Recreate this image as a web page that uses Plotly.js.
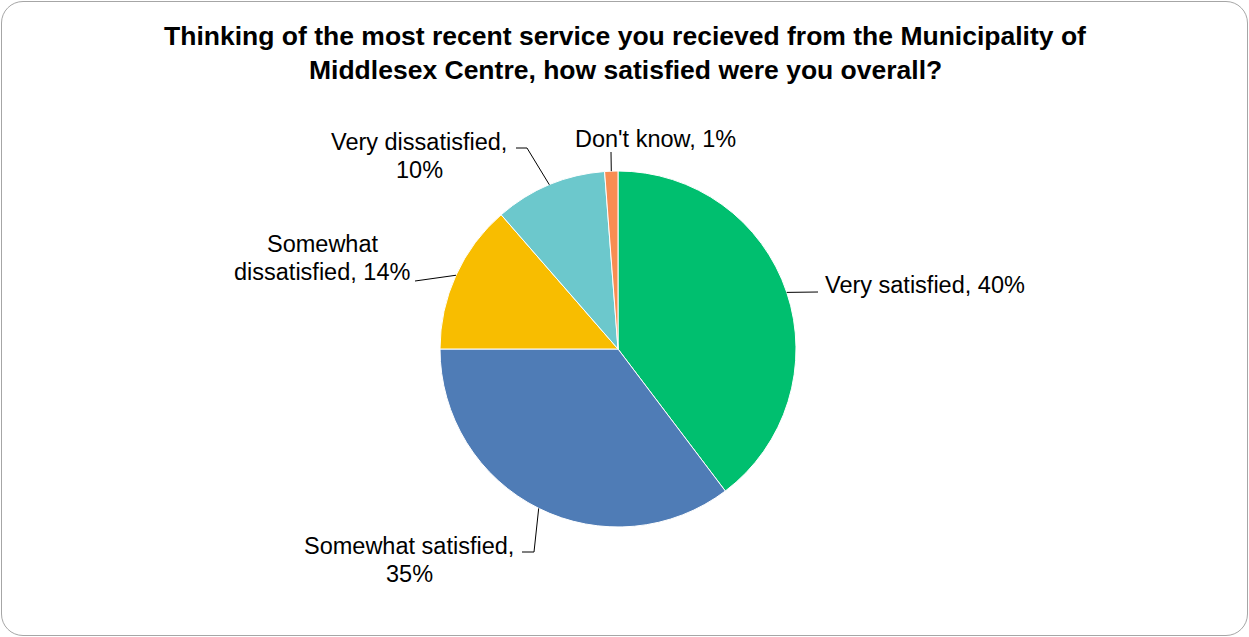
<!DOCTYPE html>
<html>
<head>
<meta charset="utf-8">
<script src="https://cdn.plot.ly/plotly-3.0.1.min.js"></script>
<style>
  html, body { margin: 0; padding: 0; background: #fff; }
  #wrap { position: relative; width: 1249px; height: 637px; }
  #chart { position: absolute; left: 0; top: 0; width: 1249px; height: 637px; }
  #frame { position: absolute; left: 1px; top: 1px; width: 1247px; height: 635px; box-sizing: border-box;
           border: 1.5px solid #a6a6a6; border-radius: 22px; pointer-events: none; }
</style>
</head>
<body>
<div id="wrap"><div id="chart"></div><div id="frame"></div></div>
<script>
// ---- data ----
const categories = ['Very satisfied', 'Somewhat satisfied', 'Somewhat dissatisfied', 'Very dissatisfied', "Don't know"];
const values = [39.7, 35.3, 13.6, 10.2, 1.2];
const shownPercent = ['40%', '35%', '14%', '10%', '1%'];
const colors = ['#00bf6f', '#4f7cb6', '#f8bd00', '#6cc8cc', '#f88d52'];
const titleLines = ['Thinking of the most recent service you recieved from the Municipality of',
                    'Middlesex Centre, how satisfied were you overall?'];

// ---- label layout (pixels) ----
const W = 1249, H = 637;
const cx = 618, cy = 349, R = 178;
const FONT = 'Liberation Sans, Arial, sans-serif';
const displayNames = ['Very satisfied', 'Somewhat satisfied', 'Somewhat<br>dissatisfied', 'Very dissatisfied', "Don't know"];
const separators = [', ', ',<br>', ', ', ',<br>', ', '];
const labelPos = [[823, 285, 'left'], [409, 560, 'center'], [322, 258, 'center'], [419, 156, 'center'], [655, 139, 'center']];
const lineGap = 28;
// leader line waypoints (from label side toward slice)
const leaderPts = [[[818, 292]], [[522, 552], [534, 552]], [[415, 281]], [[516, 148], [527, 148]], [[611, 152]]];

const px = x => x / W;
const py = y => 1 - y / H;

const total = values.reduce((a, b) => a + b, 0);
let cum = 0;
const shapes = [];
const annotations = [];
values.forEach((v, i) => {
  const mid = (cum + v / 2) / total * 2 * Math.PI;
  cum += v;
  const ex = cx + R * Math.sin(mid), ey = cy - R * Math.cos(mid);
  const pts = leaderPts[i].concat([[ex, ey]]);
  let d = 'M ' + px(pts[0][0]) + ',' + py(pts[0][1]);
  for (let k = 1; k < pts.length; k++) d += ' L ' + px(pts[k][0]) + ',' + py(pts[k][1]);
  shapes.push({type: 'path', xref: 'paper', yref: 'paper', path: d, line: {color: '#000', width: 1}});
  const lp = labelPos[i];
  const lines = (displayNames[i] + separators[i] + shownPercent[i]).split('<br>');
  lines.forEach((ln, j) => {
    const yy = lp[1] + (j - (lines.length - 1) / 2) * lineGap;
    annotations.push({
      xref: 'paper', yref: 'paper', x: px(lp[0]), y: py(yy),
      xanchor: lp[2], yanchor: 'middle', align: 'center', showarrow: false,
      text: ln,
      font: {family: FONT, size: 23.5, color: '#000'}
    });
  });
});

annotations.push({
  xref: 'paper', yref: 'paper', x: px(625), y: py(70), xanchor: 'center', yanchor: 'middle', showarrow: false,
  text: '<b>' + titleLines[1] + '</b>',
  font: {family: FONT, size: 26.5, color: '#000'}
});

const data = [{
  type: 'pie',
  labels: categories,
  values: values,
  sort: false,
  direction: 'clockwise',
  rotation: 0,
  textinfo: 'none',
  hoverinfo: 'label+percent',
  marker: {colors: colors, line: {color: '#ffffff', width: 1}},
  domain: {x: [(cx - R) / W, (cx + R) / W], y: [1 - (cy + R) / H, 1 - (cy - R) / H]},
  showlegend: false
}];

const layout = {
  width: W, height: H,
  margin: {l: 0, r: 0, t: 0, b: 0},
  paper_bgcolor: '#ffffff',
  title: {
    text: '<b>' + titleLines[0] + '</b>',
    x: px(625), xanchor: 'center', xref: 'paper',
    y: py(36), yanchor: 'middle', yref: 'container',
    font: {family: FONT, size: 26.5, color: '#000'}
  },
  shapes: shapes,
  annotations: annotations,
  showlegend: false
};

Plotly.newPlot('chart', data, layout, {displayModeBar: false, staticPlot: true});
</script>
</body>
</html>
